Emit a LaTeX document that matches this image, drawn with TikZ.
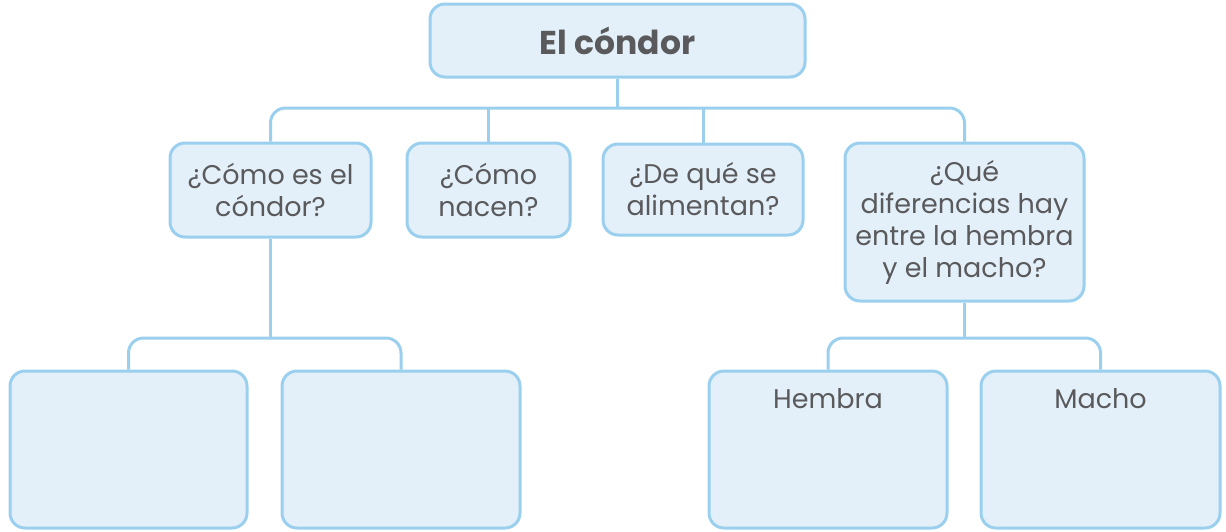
\documentclass[tikz,border=0pt]{standalone}
\usepackage{fontspec}
\setmainfont{Poppins}
\definecolor{boxfill}{HTML}{E3F0FA}
\definecolor{boxline}{HTML}{9BCFEE}
\definecolor{ink}{HTML}{5A5A5C}
\tikzset{box/.style={draw=boxline, fill=boxfill, line width=1.5pt,
  rounded corners=7.5pt, align=center, text=ink, inner sep=0pt,
  font=\fontsize{13.5}{16}\selectfont}}
\tikzset{link/.style={draw=boxline, line width=1.5pt}}

\begin{document}
\begin{tikzpicture}[x=0.5pt, y=-0.5pt]
  \useasboundingbox (0, 0) rectangle (1226, 531);

  \node[box, minimum width=187.5pt, minimum height=36.5pt,
    font=\fontsize{16.5}{20}\selectfont\bfseries] at (617.5, 40.5) (title)
    {El cóndor};

  \node[box, minimum width=100.5pt, minimum height=47pt] at (270.5, 190) (como)
    {¿Cómo es el\\cóndor?};
  \node[box, minimum width=81.5pt, minimum height=47pt] at (488.5, 190) (nacen)
    {¿Cómo\\nacen?};
  \node[box, minimum width=100pt, minimum height=45.5pt] at (703, 189.5) (comen)
    {¿De qué se\\alimentan?};
  \node[box, minimum width=119.5pt, minimum height=79pt] at (964.5, 222) (difer)
    {¿Qué\\diferencias hay\\entre la hembra\\y el macho?};

  \node[box, minimum width=118.5pt, minimum height=78.5pt] at (128.5, 449.5) (rasgoA) {};
  \node[box, minimum width=119pt, minimum height=78.5pt] at (401, 449.5) (rasgoB) {};
  \node[box, minimum width=119pt, minimum height=78.5pt] at (828, 449.5) (hembra) {};
  \node[box, minimum width=119.5pt, minimum height=78.5pt] at (1100.5, 449.5) (macho) {};
  \node[box, draw=none, fill=none, anchor=base] at ([yshift=-19.5pt]hembra.north) {Hembra};
  \node[box, draw=none, fill=none, anchor=base] at ([yshift=-19.5pt]macho.north) {Macho};

  \coordinate (bus) at (0, 108);
  \coordinate (busB) at (0, 338);

  \draw[link] (title.south) -- (title.south |- bus);
  \draw[link, rounded corners=7.5pt] (como.north) -- (como.north |- bus)
    -- (difer.north |- bus) -- (difer.north);
  \draw[link] (nacen.north) -- (nacen.north |- bus);
  \draw[link] (comen.north) -- (comen.north |- bus);

  \draw[link] (como.south) -- (como.south |- busB);
  \draw[link, rounded corners=7.5pt] (rasgoA.north) -- (rasgoA.north |- busB)
    -- (rasgoB.north |- busB) -- (rasgoB.north);

  \draw[link] (difer.south) -- (difer.south |- busB);
  \draw[link, rounded corners=7.5pt] (hembra.north) -- (hembra.north |- busB)
    -- (macho.north |- busB) -- (macho.north);
\end{tikzpicture}
\end{document}
